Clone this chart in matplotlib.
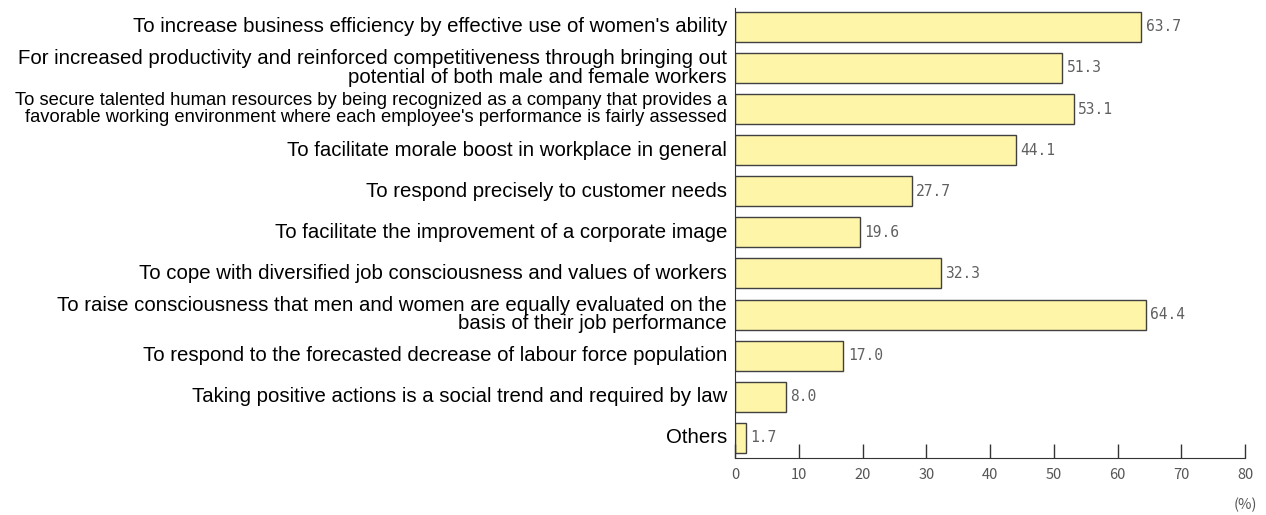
import matplotlib
matplotlib.use("Agg")
import matplotlib.pyplot as plt
from matplotlib import font_manager

categories = [
    "To increase business efficiency by effective use of women's ability",
    "For increased productivity and reinforced competitiveness through bringing out\npotential of both male and female workers",
    "To secure talented human resources by being recognized as a company that provides a\nfavorable working environment where each employee's performance is fairly assessed",
    "To facilitate morale boost in workplace in general",
    "To respond precisely to customer needs",
    "To facilitate the improvement of a corporate image",
    "To cope with diversified job consciousness and values of workers",
    "To raise consciousness that men and women are equally evaluated on the\nbasis of their job performance",
    "To respond to the forecasted decrease of labour force population",
    "Taking positive actions is a social trend and required by law",
    "Others",
]
values = [63.7, 51.3, 53.1, 44.1, 27.7, 19.6, 32.3, 64.4, 17.0, 8.0, 1.7]
xticks = [0, 10, 20, 30, 40, 50, 60, 70, 80]

names = {f.name for f in font_manager.fontManager.ttflist}
narrow = "Liberation Sans Narrow" if "Liberation Sans Narrow" in names else None

fig = plt.figure(figsize=(12.66, 5.15), dpi=100)
ax = fig.add_axes([735/1266, 1-458/515, 510/1266, 450/515])

ypos = list(range(len(values)))
ax.barh(ypos, values, height=0.73, color="#FFF5A8", edgecolor="#404040", linewidth=1.0)
ax.set_xlim(0, 80)
ax.set_ylim(10.49, -0.46)

for y, v in zip(ypos, values):
    ax.text(v + 0.7, y, f"{v:.1f}", va="center", ha="left", fontsize=10.5,
            color="#606060", family="DejaVu Sans Mono")

ax.set_yticks(ypos)
ax.set_yticklabels([])
for i, (y, c) in enumerate(zip(ypos, categories)):
    if i == 2:
        if narrow:
            ax.text(-1.25, y, c, ha="right", va="center", fontsize=15, family=narrow,
                    color="black", linespacing=0.95, clip_on=False)
        else:
            ax.text(-1.25, y, c, ha="right", va="center", fontsize=13.2,
                    family="Liberation Sans", color="black", linespacing=0.95,
                    clip_on=False)
    else:
        ax.text(-1.25, y, c, ha="right", va="center", fontsize=14.7,
                family="Liberation Sans", color="black", linespacing=0.95,
                clip_on=False)
ax.tick_params(axis="y", length=0)

ax.set_xticks(xticks)
ax.set_xticklabels([str(t) for t in xticks], fontsize=10.5, color="#555555",
                   family=narrow if narrow else "Noto Sans CJK JP")
ax.tick_params(axis="x", direction="in", length=10, width=1, color="#333333", pad=7)

for s in ["top", "right"]:
    ax.spines[s].set_visible(False)
ax.spines["left"].set_color("#333333")
ax.spines["bottom"].set_color("#333333")

ax.text(1.0, -(505-458)/450, "(%)", transform=ax.transAxes, ha="center", va="center",
        fontsize=10.5, color="#555555",
        family=narrow if narrow else "Noto Sans CJK JP")

fig.savefig("out.png", dpi=100, facecolor="white")
